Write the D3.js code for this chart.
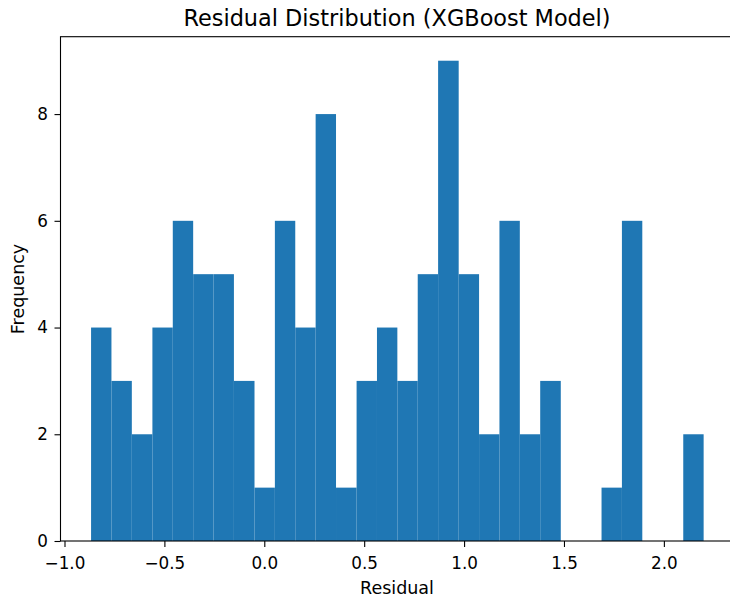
<!DOCTYPE html>
<html>
<head>
<meta charset="utf-8">
<script src="https://cdn.jsdelivr.net/npm/d3@7"></script>
<style>
  body { margin: 0; background: #fff; }
  svg { display: block; font-family: "DejaVu Sans", sans-serif; }
</style>
</head>
<body>
<svg id="chart" width="730" height="600"></svg>
<script>
// Histogram bin edges (30 bins)
const binEdges = [-0.867, -0.765, -0.663, -0.560, -0.458, -0.356, -0.254, -0.152, -0.049,
  0.053, 0.155, 0.257, 0.359, 0.462, 0.564, 0.666, 0.768, 0.870, 0.973, 1.075,
  1.177, 1.279, 1.381, 1.484, 1.586, 1.688, 1.790, 1.892, 1.995, 2.097, 2.199];
// Counts per bin
const counts = [4, 3, 2, 4, 6, 5, 5, 3, 1, 6, 4, 8, 1, 3, 4, 3, 5, 9, 5, 2, 6, 2, 3, 0, 0, 1, 6, 0, 0, 2];
const xTicks = [-1.0, -0.5, 0.0, 0.5, 1.0, 1.5, 2.0];
const yTicks = [0, 2, 4, 6, 8];
const titleText = "Residual Distribution (XGBoost Model)";
const xLabel = "Residual";
const yLabel = "Frequency";

(function () {
const svg = d3.select("#chart");
const pL = 60.5, pR = 734.2, pT = 36.7, pB = 541;

const x = d3.scaleLinear().domain([-1.020, 2.352]).range([pL, pR]);
const y = d3.scaleLinear().domain([0, 9.45]).range([pB, pT]);

const bins = counts.map((c, i) => ({ x0: binEdges[i], x1: binEdges[i + 1], c }));

svg.append("g").selectAll("rect").data(bins).join("rect")
  .attr("x", d => x(d.x0))
  .attr("width", d => x(d.x1) - x(d.x0))
  .attr("y", d => y(d.c))
  .attr("height", d => y(0) - y(d.c))
  .attr("fill", "#1f77b4");

const fmt = d => d3.format(".1f")(d).replace("-", "\u2212");
const xAxis = svg.append("g").attr("transform", `translate(0,${pB})`)
  .call(d3.axisBottom(x).tickValues(xTicks).tickFormat(fmt).tickSize(6).tickPadding(10).tickSizeOuter(0));
const yAxis = svg.append("g").attr("transform", `translate(${pL},0)`)
  .call(d3.axisLeft(y).tickValues(yTicks).tickFormat(d3.format("d")).tickSize(6).tickPadding(6.5).tickSizeOuter(0));

[xAxis, yAxis].forEach(g => {
  g.select(".domain").remove();
  g.selectAll("line").attr("stroke", "#000").attr("stroke-width", 1.1);
  g.selectAll("text").attr("fill", "#000").style("font-size", "16.8px").style("font-family", "DejaVu Sans");
});

svg.append("rect").attr("x", pL).attr("y", pT).attr("width", pR - pL).attr("height", pB - pT)
  .attr("fill", "none").attr("stroke", "#000").attr("stroke-width", 1.1);

svg.append("text").attr("x", 397).attr("y", 26).attr("text-anchor", "middle")
  .style("font-size", "22.4px").attr("fill", "#000").text(titleText);
svg.append("text").attr("x", 397).attr("y", 594).attr("text-anchor", "middle")
  .style("font-size", "17.5px").attr("fill", "#000").text(xLabel);
svg.append("text").attr("transform", "translate(24,289) rotate(-90)").attr("text-anchor", "middle")
  .style("font-size", "17.5px").attr("fill", "#000").text(yLabel);
})();
</script>
</body>
</html>
